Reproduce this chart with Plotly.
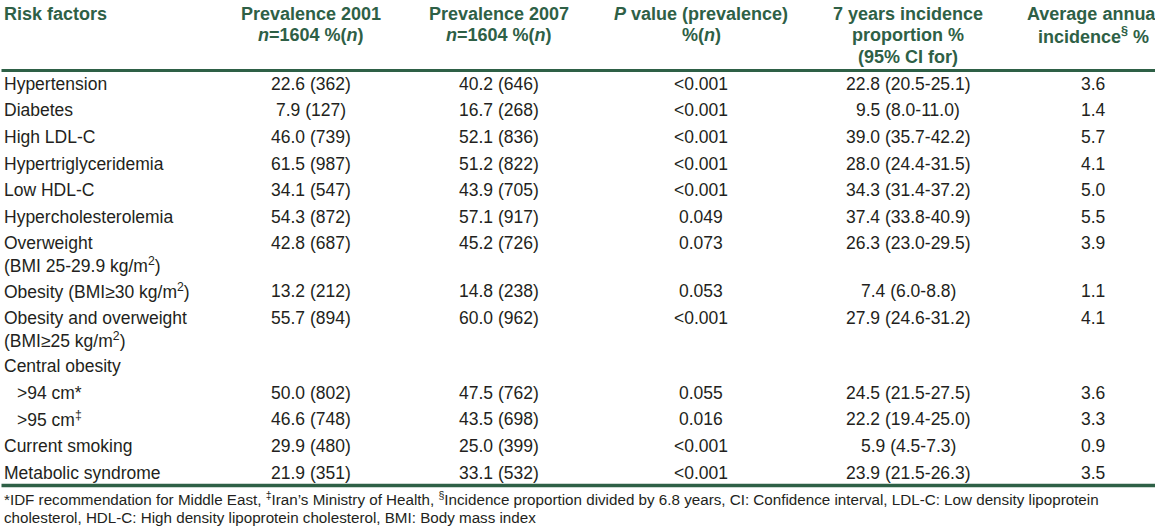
import plotly.graph_objects as go

# ---------------- data ----------------
risk_factors = [
    ["Hypertension"],
    ["Diabetes"],
    ["High LDL-C"],
    ["Hypertriglyceridemia"],
    ["Low HDL-C"],
    ["Hypercholesterolemia"],
    ["Overweight", "(BMI 25-29.9 kg/m<sup>2</sup>)"],
    ["Obesity (BMI≥30 kg/m<sup>2</sup>)"],
    ["Obesity and overweight", "(BMI≥25 kg/m<sup>2</sup>)"],
    ["Central obesity"],
    [">94 cm*"],
    [">95 cm<sup>‡</sup>"],
    ["Current smoking"],
    ["Metabolic syndrome"],
]
indent = [False, False, False, False, False, False, False, False, False, False, True, True, False, False]
prev2001 = [22.6, 7.9, 46.0, 61.5, 34.1, 54.3, 42.8, 13.2, 55.7, None, 50.0, 46.6, 29.9, 21.9]
n2001 = [362, 127, 739, 987, 547, 872, 687, 212, 894, None, 802, 748, 480, 351]
prev2007 = [40.2, 16.7, 52.1, 51.2, 43.9, 57.1, 45.2, 14.8, 60.0, None, 47.5, 43.5, 25.0, 33.1]
n2007 = [646, 268, 836, 822, 705, 917, 726, 238, 962, None, 762, 698, 399, 532]
p_values = ["<0.001", "<0.001", "<0.001", "<0.001", "<0.001", "0.049", "0.073", "0.053",
            "<0.001", "", "0.055", "0.016", "<0.001", "<0.001"]
inc7 = [22.8, 9.5, 39.0, 28.0, 34.3, 37.4, 26.3, 7.4, 27.9, None, 24.5, 22.2, 5.9, 23.9]
ci_low = [20.5, 8.0, 35.7, 24.4, 31.4, 33.8, 23.0, 6.0, 24.6, None, 21.5, 19.4, 4.5, 21.5]
ci_high = [25.1, 11.0, 42.2, 31.5, 37.2, 40.9, 29.5, 8.8, 31.2, None, 27.5, 25.0, 7.3, 26.3]
annual = [3.6, 1.4, 5.7, 4.1, 5.0, 5.5, 3.9, 1.1, 4.1, None, 3.6, 3.3, 0.9, 3.5]

headers = [
    ["Risk factors"],
    ["Prevalence 2001", "<i>n</i>=1604 %(<i>n</i>)"],
    ["Prevalence 2007", "<i>n</i>=1604 %(<i>n</i>)"],
    ["<i>P</i> value (prevalence)", "%(<i>n</i>)"],
    ["7 years incidence", "proportion %", "(95% CI for)"],
    ["Average annual", "incidence<sup>§</sup> %"],
]
footnotes = [
    "*IDF recommendation for Middle East, <sup>‡</sup>Iran’s Ministry of Health, <sup>§</sup>Incidence proportion divided by 6.8 years, CI: Confidence interval, LDL-C: Low density lipoprotein",
    "cholesterol, HDL-C: High density lipoprotein cholesterol, BMI: Body mass index",
]

# ---------------- layout settings ----------------
W, H = 1155, 529
FONT = "Liberation Sans, Arial, sans-serif"
GREEN = "#2e6046"
TEXT = "#231f20"
col_x = [1.5, 311, 499, 701, 908, 1093]
indent_px = 13
body_size = 17.5
head_size = 18
foot_size = 15.2
row0_y = 83.7
row_step = 26.6
line_step = 21.5
head_y0 = 13.7
foot_y0 = 498.5
foot_step = 18.5


def fmt_pn(v, n):
    return "" if v is None else f"{v:.1f} ({n})"


def fmt_ci(v, lo, hi):
    return "" if v is None else f"{v:.1f} ({lo:.1f}-{hi:.1f})"


def fmt_1(v):
    return "" if v is None else f"{v:.1f}"


fig = go.Figure()
annotations = []


def add_text(x, y, txt, size, color, anchor, bold=False):
    if bold:
        txt = "<b>" + txt + "</b>"
    annotations.append(dict(
        x=x, y=y, xref="x", yref="y", text=txt, showarrow=False,
        xanchor=anchor, yanchor="middle",
        font=dict(family=FONT, size=size, color=color),
    ))


# header
for c, lines in enumerate(headers):
    for k, t in enumerate(lines):
        add_text(col_x[c], head_y0 + k * line_step, t, head_size, GREEN,
                 "left" if c == 0 else "center", bold=True)

# body
extra = 0
for i, label_lines in enumerate(risk_factors):
    y = row0_y + i * row_step + extra * line_step
    for k, t in enumerate(label_lines):
        x = col_x[0] + (indent_px if indent[i] else 0)
        add_text(x, y + k * line_step, t, body_size, TEXT, "left")
    vals = [fmt_pn(prev2001[i], n2001[i]), fmt_pn(prev2007[i], n2007[i]), p_values[i],
            fmt_ci(inc7[i], ci_low[i], ci_high[i]), fmt_1(annual[i])]
    for c, v in enumerate(vals, start=1):
        if v:
            add_text(col_x[c], y, v, body_size, TEXT, "center")
    extra += len(label_lines) - 1

# footnotes
for k, t in enumerate(footnotes):
    add_text(col_x[0], foot_y0 + k * foot_step, t, foot_size, TEXT, "left")

# rules
shapes = [
    dict(type="line", xref="x", yref="y", x0=1.5, x1=W, y0=70.5, y1=70.5,
         line=dict(color=GREEN, width=3)),
    dict(type="line", xref="x", yref="y", x0=1.5, x1=W, y0=485.5, y1=485.5,
         line=dict(color=GREEN, width=3.5)),
]

fig.update_layout(
    width=W, height=H,
    margin=dict(l=0, r=0, t=0, b=0),
    paper_bgcolor="white", plot_bgcolor="white",
    xaxis=dict(range=[0, W], visible=False, fixedrange=True),
    yaxis=dict(range=[H, 0], visible=False, fixedrange=True),
    annotations=annotations, shapes=shapes, showlegend=False,
)

fig.write_html(
    "out.html",
    config={"displayModeBar": False},
    post_script="document.body.style.margin='0';document.body.style.padding='0';document.body.style.overflow='hidden';",
)
